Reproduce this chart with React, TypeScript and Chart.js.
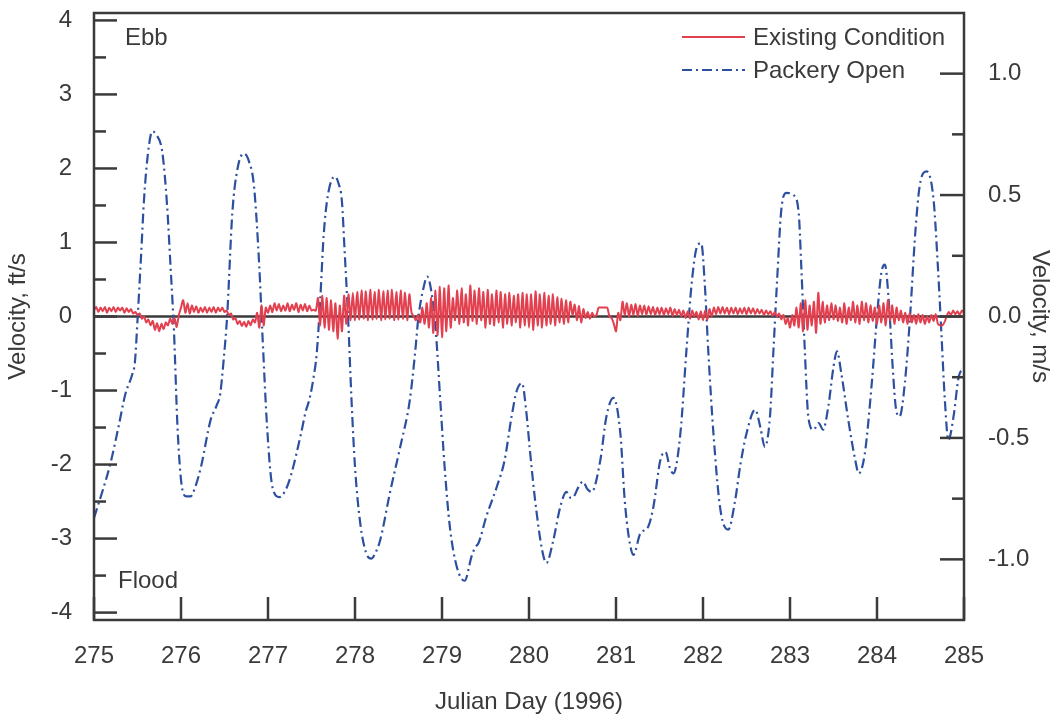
import React, { useEffect, useRef } from "react";
import { Chart, registerables } from "chart.js";

Chart.register(...registerables);

// Conversion between the two vertical axes
const FT_PER_M = 3.2808;
const FT_MIN = -4.1;
const FT_MAX = 4.1;

// Axis ticks
const dayTicks = [275, 276, 277, 278, 279, 280, 281, 282, 283, 284, 285];
const ftTicks = [-4, -3, -2, -1, 0, 1, 2, 3, 4];
const mTicks = [-1.0, -0.5, 0.0, 0.5, 1.0];

// Packery Open: velocity (ft/s) at Julian day
const blueDays = [
  275.0, 275.1, 275.19, 275.28, 275.36, 275.44, 275.47, 275.5, 275.54, 275.575,
  275.62, 275.67, 275.72, 275.785, 275.84, 275.88, 275.92, 275.96, 276.01, 276.06,
  276.11, 276.17, 276.23, 276.34, 276.41, 276.45, 276.49, 276.53, 276.59, 276.65,
  276.72, 276.78, 276.84, 276.9, 276.935, 276.99, 277.05, 277.13, 277.2, 277.26,
  277.38, 277.43, 277.48, 277.52, 277.56, 277.6, 277.64, 277.69, 277.77, 277.81,
  277.85, 277.88, 277.92, 277.96, 278.0, 278.06, 278.13, 278.19, 278.24, 278.29,
  278.4, 278.52, 278.63, 278.69, 278.73, 278.79, 278.83, 278.88, 278.93, 278.98,
  279.03, 279.09, 279.17, 279.26, 279.34, 279.38, 279.42, 279.51, 279.63, 279.72,
  279.8, 279.86, 279.92, 279.97, 280.01, 280.07, 280.15, 280.2, 280.28, 280.36,
  280.43, 280.48, 280.51, 280.57, 280.62, 280.67, 280.72, 280.82, 280.89, 280.97,
  281.05, 281.1, 281.15, 281.2, 281.28, 281.37, 281.43, 281.51, 281.57, 281.62,
  281.66, 281.74, 281.81, 281.87, 281.93, 281.98, 282.02, 282.06, 282.12, 282.2,
  282.29, 282.37, 282.43, 282.5, 282.6, 282.66, 282.71, 282.77, 282.81, 282.85,
  282.9, 282.96, 283.04, 283.1, 283.13, 283.17, 283.21, 283.27, 283.33, 283.38,
  283.44, 283.5, 283.54, 283.59, 283.67, 283.75, 283.79, 283.86, 283.94, 284.0,
  284.05, 284.09, 284.14, 284.18, 284.22, 284.26, 284.32, 284.38, 284.44, 284.49,
  284.57, 284.65, 284.7, 284.74, 284.78, 284.82, 284.88, 284.94, 285.0,
];
const blueVel = [
  -2.72, -2.35, -1.98, -1.5, -1.05, -0.78, -0.62, -0.05, 0.8, 1.58,
  2.2, 2.5, 2.45, 2.22, 1.5, 0.67, -0.22, -1.5, -2.3, -2.43,
  -2.43, -2.28, -2.03, -1.4, -1.2, -1.05, -0.59, 0.0, 1.4, 2.0,
  2.2, 2.1, 1.75, 0.67, -0.22, -1.5, -2.3, -2.44, -2.35, -2.16,
  -1.58, -1.3, -1.1, -0.85, -0.5, 0.22, 1.1, 1.65, 1.89, 1.8,
  1.55, 0.9, 0.0, -1.13, -2.03, -2.79, -3.2, -3.27, -3.18, -3.02,
  -2.39, -1.76, -1.13, -0.5, 0.0, 0.4, 0.54, 0.32, -0.22, -1.13,
  -2.03, -2.84, -3.38, -3.57, -3.24, -3.12, -3.06, -2.7, -2.3, -1.94,
  -1.35, -1.0, -0.9, -1.3, -1.8, -2.48, -3.15, -3.33, -3.02, -2.57,
  -2.37, -2.45, -2.44, -2.3, -2.23, -2.33, -2.37, -1.94, -1.35, -1.1,
  -1.58, -2.48, -3.0, -3.22, -2.93, -2.84, -2.57, -1.94, -1.83, -2.05,
  -2.12, -1.58, -0.45, 0.45, 0.94, 0.99, 0.45, -0.45, -1.58, -2.61,
  -2.88, -2.48, -2.0, -1.58, -1.26, -1.5, -1.76, -1.35, -0.45, 0.45,
  1.44, 1.67, 1.64, 1.4, 0.67, -0.45, -1.35, -1.53, -1.44, -1.53,
  -1.22, -0.68, -0.47, -0.77, -1.4, -1.94, -2.12, -1.85, -0.9, 0.0,
  0.59, 0.7, 0.13, -0.68, -1.26, -1.35, -0.9, 0.0, 1.13, 1.76,
  1.96, 1.58, 0.67, -0.22, -1.13, -1.67, -1.35, -0.81, -0.7,
];

// Existing Condition: velocity (ft/s), sampled every 0.025 day from day 275
const redStart = 275;
const redStep = 0.025;
const redVel = [
  0.08, 0.13, 0.06, 0.12, 0.07, 0.13, 0.05, 0.12, 0.07, 0.13, 0.06, 0.12, 0.08, 0.12, 0.05, 0.11, 0.06, 0.1, 0.04, 0.06,
  0.02, 0.04, -0.03, 0.0, -0.08, -0.04, -0.12, -0.06, -0.18, -0.09, -0.2, -0.1, -0.17, -0.08, -0.12, -0.03, -0.1, -0.02, -0.14, 0.02,
  0.12, 0.22, 0.05, 0.18, 0.04, 0.15, 0.06, 0.14, 0.05, 0.12, 0.06, 0.13, 0.05, 0.12, 0.06, 0.13, 0.05, 0.12, 0.07, 0.12,
  0.06, 0.08, 0.02, 0.04, -0.04, -0.02, -0.1, -0.06, -0.13, -0.07, -0.14, -0.06, -0.12, -0.04, -0.08, 0.05, -0.15, 0.15, -0.12, 0.12,
  0.05, 0.15, 0.06, 0.18, 0.08, 0.17, 0.07, 0.15, 0.08, 0.18, 0.07, 0.16, 0.09, 0.18, 0.06, 0.16, 0.08, 0.17, 0.07, 0.15,
  0.08, 0.09, 0.08, 0.25, -0.12, 0.28, -0.15, 0.25, -0.18, 0.22, -0.2, 0.18, -0.3, 0.15, -0.2, 0.28, -0.1, 0.3, -0.05, 0.32,
  -0.05, 0.33, -0.04, 0.35, -0.03, 0.34, -0.05, 0.36, -0.04, 0.33, -0.03, 0.36, -0.05, 0.34, -0.04, 0.35, -0.03, 0.36, -0.05, 0.33,
  -0.04, 0.35, -0.03, 0.32, -0.05, 0.3, 0.05, 0.0, -0.05, 0.02, -0.08, 0.12, -0.1, 0.18, -0.15, 0.25, -0.22, 0.35, -0.25, 0.4,
  -0.28, 0.38, -0.2, 0.42, -0.15, 0.25, -0.05, 0.35, -0.1, 0.38, -0.08, 0.3, -0.12, 0.42, -0.06, 0.35, -0.1, 0.38, -0.05, 0.33,
  -0.15, 0.36, -0.1, 0.3, -0.12, 0.35, -0.08, 0.33, -0.15, 0.3, -0.1, 0.32, -0.12, 0.28, -0.08, 0.3, -0.15, 0.32, -0.12, 0.3,
  -0.15, 0.3, -0.18, 0.34, -0.12, 0.3, -0.15, 0.32, -0.12, 0.28, -0.1, 0.3, -0.12, 0.26, -0.08, 0.24, -0.1, 0.22, -0.08, 0.2,
  0.02, 0.16, -0.05, 0.14, -0.08, 0.1, -0.02, 0.06, -0.03, 0.05, 0.0, 0.02, 0.12, 0.12, 0.12, 0.12, 0.12, 0.0, -0.02, -0.1,
  -0.2, 0.05, -0.05, 0.2, 0.02, 0.18, 0.0, 0.16, 0.02, 0.17, 0.01, 0.15, 0.03, 0.15, 0.02, 0.14, 0.03, 0.13, 0.02, 0.12,
  0.03, 0.12, 0.02, 0.11, 0.03, 0.12, 0.01, 0.1, 0.02, 0.09, 0.0, 0.08, -0.02, 0.07, -0.03, 0.08, 0.0, 0.06, -0.04, 0.07,
  -0.05, 0.08, -0.04, 0.1, 0.0, 0.12, 0.03, 0.13, 0.04, 0.13, 0.04, 0.12, 0.03, 0.12, 0.04, 0.12, 0.03, 0.11, 0.04, 0.12,
  0.03, 0.12, 0.04, 0.11, 0.03, 0.1, 0.04, 0.09, 0.02, 0.08, 0.03, 0.07, 0.01, 0.06, 0.0, 0.04, -0.04, 0.02, -0.1, -0.02,
  -0.15, 0.02, -0.12, 0.12, -0.15, 0.18, -0.2, 0.22, -0.18, 0.15, -0.12, 0.2, -0.22, 0.32, -0.1, 0.2, -0.08, 0.15, -0.05, 0.18,
  -0.04, 0.15, -0.06, 0.12, -0.08, 0.18, -0.1, 0.12, -0.05, 0.2, -0.08, 0.15, -0.1, 0.2, -0.05, 0.18, -0.08, 0.15, -0.06, 0.12,
  -0.1, 0.15, -0.08, 0.18, -0.12, 0.22, -0.05, 0.15, -0.1, 0.12, -0.05, 0.08, -0.08, 0.05, -0.1, 0.04, -0.08, 0.02, -0.1, 0.03,
  -0.08, 0.02, -0.1, 0.0, -0.08, 0.02, -0.06, 0.03, -0.1, -0.12, -0.12, -0.08, 0.0, 0.06, 0.02, 0.08, 0.03, 0.07, 0.02, 0.08,
  0.05,
];

const FONT = '"Liberation Sans", Arial, Helvetica, sans-serif';
const INK = "#3a3a3a";
const RED = "#e2404f";
const BLUE = "#2d4f9f";
const BLUE_DASH = [10, 4, 2, 4];

// Box frame, inward tick marks, zero line, legend and Ebb/Flood notes
const framePlugin = {
  id: "frame",
  beforeDatasetsDraw(chart: any) {
    const { ctx, chartArea: a, scales } = chart;
    const y0 = scales.y.getPixelForValue(0);
    ctx.save();
    ctx.strokeStyle = INK;
    ctx.lineWidth = 2.5;
    ctx.beginPath();
    ctx.moveTo(a.left, y0);
    ctx.lineTo(a.right, y0);
    ctx.stroke();
    ctx.restore();
  },
  afterDatasetsDraw(chart: any) {
    const { ctx, chartArea: a, scales } = chart;
    const sy = scales.y;
    const sy2 = scales.y2;
    const sx = scales.x;
    ctx.save();
    ctx.strokeStyle = INK;
    ctx.lineWidth = 2.5;
    ctx.strokeRect(a.left, a.top, a.right - a.left, a.bottom - a.top);

    const hTick = (x0: number, x1: number, y: number) => {
      ctx.beginPath();
      ctx.moveTo(x0, y);
      ctx.lineTo(x1, y);
      ctx.stroke();
    };
    ftTicks.forEach((v, i) => {
      hTick(a.left, a.left + 23, sy.getPixelForValue(v));
      if (i < ftTicks.length - 1) {
        const mid = (v + ftTicks[i + 1]) / 2;
        hTick(a.left, a.left + 12, sy.getPixelForValue(mid));
      }
    });
    mTicks.forEach((v, i) => {
      hTick(a.right - 24, a.right, sy2.getPixelForValue(v));
      if (i < mTicks.length - 1) {
        const mid = (v + mTicks[i + 1]) / 2;
        hTick(a.right - 12, a.right, sy2.getPixelForValue(mid));
      }
    });
    dayTicks.forEach((d) => {
      const x = sx.getPixelForValue(d);
      ctx.beginPath();
      ctx.moveTo(x, a.bottom);
      ctx.lineTo(x, a.bottom - 23);
      ctx.stroke();
    });

    // legend
    ctx.lineWidth = 2;
    ctx.strokeStyle = RED;
    ctx.beginPath();
    ctx.moveTo(682, 37);
    ctx.lineTo(745, 37);
    ctx.stroke();
    ctx.strokeStyle = BLUE;
    ctx.setLineDash(BLUE_DASH);
    ctx.beginPath();
    ctx.moveTo(682, 70);
    ctx.lineTo(745, 70);
    ctx.stroke();
    ctx.setLineDash([]);

    ctx.fillStyle = INK;
    ctx.font = `24px ${FONT}`;
    ctx.textAlign = "left";
    ctx.textBaseline = "alphabetic";
    ctx.fillText("Existing Condition", 753, 45);
    ctx.fillText("Packery Open", 753, 78);
    ctx.fillText("Ebb", 125, 45);
    ctx.fillText("Flood", 118, 588);
    ctx.restore();
  },
};

export default function App() {
  const canvasRef = useRef<HTMLCanvasElement | null>(null);

  useEffect(() => {
    const canvas = canvasRef.current;
    if (!canvas) return;

    const bluePoints = blueDays.map((d, i) => ({ x: d, y: blueVel[i] }));
    const redPoints = redVel.map((v, i) => ({ x: redStart + i * redStep, y: v }));
    const tickFont = { family: FONT, size: 24 };
    const fitVertical = (w: number) => (s: any) => {
      s.width = w;
      s.paddingTop = 0;
      s.paddingBottom = 0;
    };

    const chart = new Chart(canvas, {
      type: "line",
      data: {
        datasets: [
          {
            label: "Existing Condition",
            data: redPoints,
            borderColor: RED,
            borderWidth: 2,
            pointRadius: 0,
            tension: 0.25,
            yAxisID: "y",
          },
          {
            label: "Packery Open",
            data: bluePoints,
            borderColor: BLUE,
            borderWidth: 2.2,
            borderDash: BLUE_DASH,
            pointRadius: 0,
            cubicInterpolationMode: "monotone",
            yAxisID: "y",
          },
        ],
      },
      options: {
        responsive: false,
        animation: false,
        parsing: false,
        layout: { padding: { top: 13, left: 0, right: 0, bottom: 0 } },
        plugins: { legend: { display: false }, tooltip: { enabled: false }, title: { display: false } },
        scales: {
          x: {
            type: "linear",
            min: 275,
            max: 285,
            grid: { display: false, drawTicks: false },
            border: { display: false },
            afterBuildTicks: (s: any) => {
              s.ticks = dayTicks.map((v) => ({ value: v }));
            },
            afterFit: (s: any) => {
              s.height = 101;
              s.paddingLeft = 0;
              s.paddingRight = 0;
            },
            ticks: {
              color: INK,
              font: tickFont,
              padding: 22,
              maxRotation: 0,
              autoSkip: false,
              callback: (v: any) => String(v),
            },
            title: {
              display: true,
              text: "Julian Day (1996)",
              color: INK,
              font: { family: FONT, size: 24 },
              padding: { top: 0, bottom: 4 },
            },
          },
          y: {
            type: "linear",
            position: "left",
            min: FT_MIN,
            max: FT_MAX,
            grid: { display: false, drawTicks: false },
            border: { display: false },
            afterBuildTicks: (s: any) => {
              s.ticks = ftTicks.map((v) => ({ value: v }));
            },
            afterFit: fitVertical(94),
            ticks: { color: INK, font: tickFont, padding: 22, callback: (v: any) => String(v) },
            title: {
              display: true,
              text: "Velocity, ft/s",
              color: INK,
              font: { family: FONT, size: 24 },
              padding: { top: 4, bottom: 0 },
            },
          },
          y2: {
            type: "linear",
            position: "right",
            min: FT_MIN / FT_PER_M,
            max: FT_MAX / FT_PER_M,
            grid: { display: false, drawTicks: false },
            border: { display: false },
            afterBuildTicks: (s: any) => {
              s.ticks = mTicks.map((v) => ({ value: v }));
            },
            afterFit: fitVertical(92),
            ticks: { color: INK, font: tickFont, padding: 24, callback: (v: any) => Number(v).toFixed(1) },
            title: {
              display: true,
              text: "Velocity, m/s",
              color: INK,
              font: { family: FONT, size: 24 },
              padding: { top: 2, bottom: 0 },
            },
          },
        },
      },
      plugins: [framePlugin],
    });

    return () => chart.destroy();
  }, []);

  return (
    <div style={{ position: "absolute", left: 0, top: 0, width: 1056, height: 721, background: "#fff" }}>
      <canvas ref={canvasRef} width={1056} height={721} style={{ display: "block" }} />
    </div>
  );
}
